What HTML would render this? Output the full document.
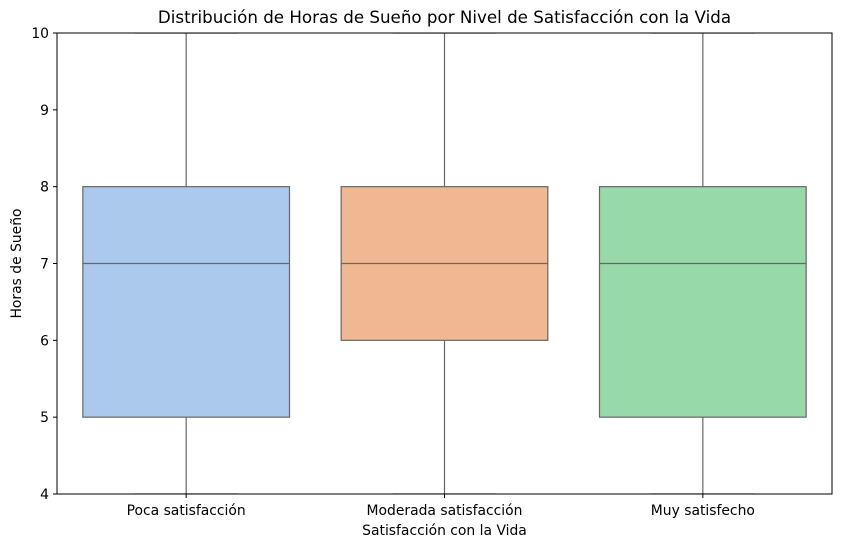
<!DOCTYPE html>
<html><head><meta charset="utf-8"><style>
body{margin:0;background:#fff;}
svg{display:block;font-family:"DejaVu Sans","Liberation Sans",sans-serif;}
</style></head><body>
<svg id="chart" width="841" height="548"></svg>
<script>
const categories=["Poca satisfacción","Moderada satisfacción","Muy satisfecho"];
const q1=[5,6,5];
const medians=[7,7,7];
const q3=[8,8,8];
const whiskLow=[4,4,4];
const whiskHigh=[10,10,10];
const colors=["#abc9ed","#f0b892","#98d9a9"];
const yTicks=[4,5,6,7,8,9,10];

const L=57,R=832,T=33,B=494,yMin=4,yMax=10;
const y=v=>B-(v-yMin)/(yMax-yMin)*(B-T);
const band=(R-L)/categories.length;
const x=i=>L+band*(i+0.5);
const NS="http://www.w3.org/2000/svg";
const svg=document.getElementById('chart');
function mk(tag,attrs,parent){const e=document.createElementNS(NS,tag);for(const k in attrs)e.setAttribute(k,attrs[k]);(parent||svg).appendChild(e);return e;}

const defs=mk('defs',{});
const cp=mk('clipPath',{id:'clip'},defs);
mk('rect',{x:L,y:T,width:R-L,height:B-T},cp);
const g=mk('g',{'clip-path':'url(#clip)'});
const lc="#666666";
categories.forEach((c,i)=>{
  const cx=x(i),hw=band*0.4;
  const grp=mk('g',{},g);
  
  
  mk('line',{x1:cx,x2:cx,y1:y(q3[i]),y2:y(whiskHigh[i]),stroke:lc,'stroke-width':1.2},grp);
  mk('line',{x1:cx,x2:cx,y1:y(q1[i]),y2:y(whiskLow[i]),stroke:lc,'stroke-width':1.2},grp);
  mk('line',{x1:cx-hw/2,x2:cx+hw/2,y1:y(whiskHigh[i]),y2:y(whiskHigh[i]),stroke:lc,'stroke-width':1.2},grp);
  mk('line',{x1:cx-hw/2,x2:cx+hw/2,y1:y(whiskLow[i]),y2:y(whiskLow[i]),stroke:lc,'stroke-width':1.2},grp);
  mk('rect',{x:cx-hw,y:y(q3[i]),width:2*hw,height:y(q1[i])-y(q3[i]),fill:colors[i],stroke:lc,'stroke-width':1.2},grp);
  mk('line',{x1:cx-hw,x2:cx+hw,y1:y(medians[i]),y2:y(medians[i]),stroke:lc,'stroke-width':1.2},grp);
});
const frame=mk('rect',{x:L,y:T,width:R-L,height:B-T,fill:'none',stroke:'#000','stroke-width':1});


yTicks.forEach(v=>{
  mk('line',{x1:L-4,x2:L,y1:y(v),y2:y(v),stroke:'#000'});
  const t=mk('text',{x:L-8,y:y(v)+5,'text-anchor':'end','font-size':13.9});
  t.textContent=v;
  
  
});
categories.forEach((c,i)=>{
  mk('line',{x1:x(i),x2:x(i),y1:B,y2:B+4,stroke:'#000'});
  const t=mk('text',{x:x(i),y:B+21,'text-anchor':'middle','font-size':13.9});
  t.textContent=c;
  
  
});
const title=mk('text',{x:(L+R)/2,y:23,'text-anchor':'middle','font-size':16.7});
title.textContent="Distribución de Horas de Sueño por Nivel de Satisfacción con la Vida";


const xt=mk('text',{x:(L+R)/2,y:535,'text-anchor':'middle','font-size':13.9});
xt.textContent="Satisfacción con la Vida";


const yt=mk('text',{x:21,y:(T+B)/2,'text-anchor':'middle','font-size':13.9,transform:`rotate(-90 21 ${(T+B)/2})`});
yt.textContent="Horas de Sueño";


</script>
</body></html>
